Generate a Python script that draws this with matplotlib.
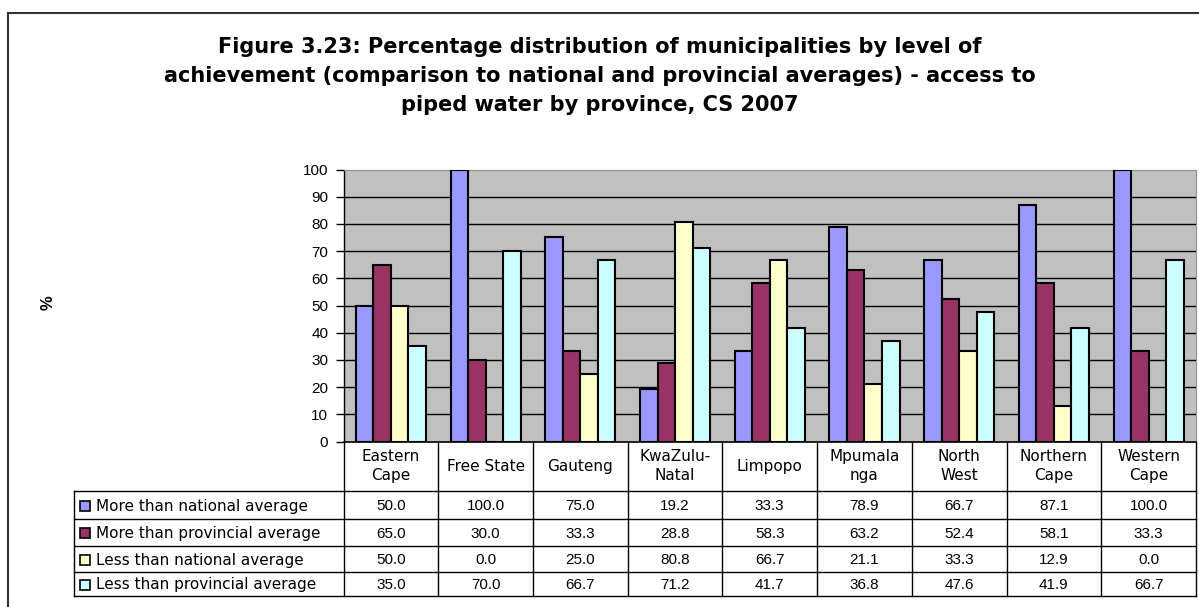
import matplotlib
matplotlib.use("Agg")
import matplotlib.pyplot as plt
from matplotlib.patches import Rectangle
import numpy as np

plt.rcParams['font.family'] = ['Liberation Sans', 'DejaVu Sans']

title = ("Figure 3.23: Percentage distribution of municipalities by level of\n"
         "achievement (comparison to national and provincial averages) - access to\n"
         "piped water by province, CS 2007")
categories = ["Eastern\nCape", "Free State", "Gauteng", "KwaZulu-\nNatal", "Limpopo",
              "Mpumala\nnga", "North\nWest", "Northern\nCape", "Western\nCape"]
series_names = ["More than national average", "More than provincial average",
                "Less than national average", "Less than provincial average"]
more_national = [50.0, 100.0, 75.0, 19.2, 33.3, 78.9, 66.7, 87.1, 100.0]
more_provincial = [65.0, 30.0, 33.3, 28.8, 58.3, 63.2, 52.4, 58.1, 33.3]
less_national = [50.0, 0.0, 25.0, 80.8, 66.7, 21.1, 33.3, 12.9, 0.0]
less_provincial = [35.0, 70.0, 66.7, 71.2, 41.7, 36.8, 47.6, 41.9, 66.7]
series = [more_national, more_provincial, less_national, less_provincial]
colors = ["#9999FF", "#993366", "#FFFFCC", "#CCFFFF"]
yticks = list(range(0, 101, 10))

W, H = 1199, 607
fig = plt.figure(figsize=(W / 100, H / 100), dpi=100)
wide = ['DejaVu Sans']

# plot area in pixels
px_l, px_r, px_t, px_b = 343.5, 1196.0, 169.5, 441.5
ax = fig.add_axes([px_l / W, (H - px_b) / H, (px_r - px_l) / W, (px_b - px_t) / H])
ax.set_facecolor("#C0C0C0")
n = len(categories)
ax.set_xlim(0, n)
ax.set_ylim(0, 100)
bw = 0.185
x = np.arange(n) + 0.5
for k, (vals, c) in enumerate(zip(series, colors)):
    ax.bar(x + (k - 1.5) * bw, vals, width=bw, color=c, edgecolor="black",
           linewidth=1.5, zorder=3)
for yv in yticks[1:-1]:
    ax.axhline(yv, color="black", linewidth=1.0, zorder=1)
ax.set_yticks(yticks)
ax.set_yticklabels([str(v) for v in yticks], fontsize=11)
ax.tick_params(axis="y", length=6, width=1, pad=5, direction="out")
ax.set_xticks([])
ax.spines["left"].set_color("black")
ax.spines["bottom"].set_color("black")
ax.spines["left"].set_linewidth(1.0)
ax.spines["bottom"].set_linewidth(1.2)
ax.spines["top"].set_color("#909090")
ax.spines["right"].set_color("#909090")

# overlay in pixel coords for table, border and texts
ov = fig.add_axes([0, 0, 1, 1], facecolor="none")
ov.set_xlim(0, W)
ov.set_ylim(H, 0)
ov.axis("off")

# figure border (top and left visible)
ov.plot([8, 1205], [13, 13], color="#333333", lw=1.5)
ov.plot([8, 8], [13, 615], color="#333333", lw=1.5)

ov.text(600, 76, title, ha="center", va="center", family=wide,
        fontsize=15, fontweight="bold", linespacing=1.55)
ov.text(48, 303, "%", rotation=90, ha="center", va="center", fontsize=12,
        fontweight="bold")

# table
colw = (px_r - px_l) / n
tl = 74
hdr_b = 491
rows_y = [491, 519, 546, 572, 596]
lc = "black"
for i in range(n + 1):
    xx = px_l + i * colw
    ov.plot([xx, xx], [px_b, rows_y[-1]], color=lc, lw=1.0)
for yy in rows_y:
    ov.plot([tl, px_r], [yy, yy], color=lc, lw=1.0)
ov.plot([tl, tl], [hdr_b, rows_y[-1]], color=lc, lw=1.0)

for i, cat in enumerate(categories):
    ov.text(px_l + (i + 0.5) * colw, (px_b + hdr_b) / 2, cat, ha="center",
            va="center", fontsize=11, linespacing=1.3, family=wide)

for r, (name, vals, c) in enumerate(zip(series_names, series, colors)):
    yc = (rows_y[r] + rows_y[r + 1]) / 2
    ov.add_patch(Rectangle((80, yc - 4.5), 10, 10, facecolor=c, edgecolor="black", lw=1.2))
    ov.text(96, yc + 1, name, ha="left", va="center", fontsize=11, family=wide)
    for i, v in enumerate(vals):
        ov.text(px_l + (i + 0.5) * colw, yc + 1, f"{v:.1f}", ha="center",
                va="center", fontsize=11)

fig.savefig("out.png", dpi=100)
